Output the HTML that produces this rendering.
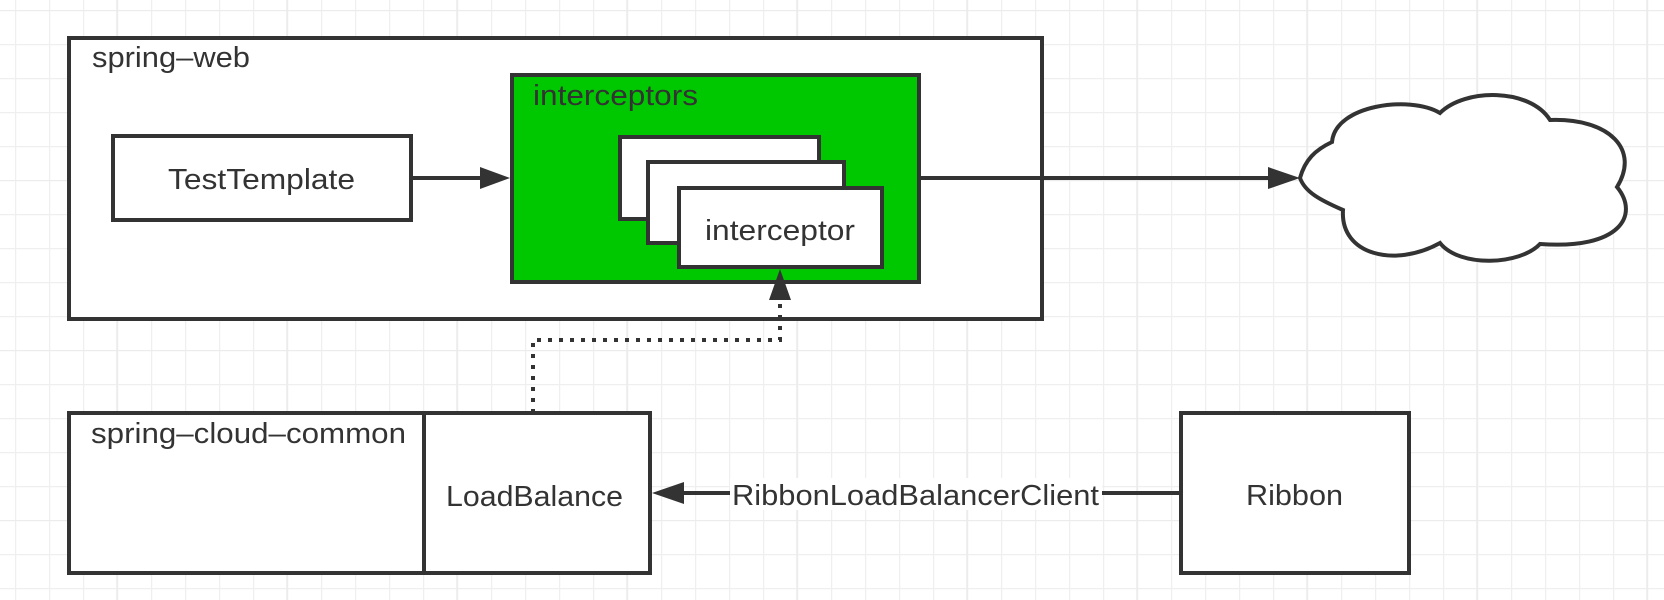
<!DOCTYPE html>
<html><head><meta charset="utf-8"><style>
html,body{margin:0;padding:0;background:#fff;}
svg{display:block;}
text{font-family:"Liberation Sans",sans-serif;fill:#333;font-size:29px;}
</style></head><body>
<svg width="1664" height="600" viewBox="0 0 1664 600" xmlns="http://www.w3.org/2000/svg">
<defs>
<pattern id="g" x="15" y="10" width="34" height="34" patternUnits="userSpaceOnUse">
<path d="M0.5 0V34M0 0.5H34" stroke="#efefef" stroke-width="1.5" fill="none"/>
</pattern>
<pattern id="G" x="15" y="10" width="170" height="170" patternUnits="userSpaceOnUse">
<path d="M102 0V170M0 0H170" stroke="#ebebeb" stroke-width="1.5" fill="none"/>
</pattern>
</defs>
<rect width="1664" height="600" fill="url(#g)"/>
<rect width="1664" height="600" fill="url(#G)"/>

<g stroke="#333" stroke-width="4">
<rect x="69" y="38" width="973" height="281" fill="#fff"/>
<rect x="113" y="136" width="298" height="84" fill="#fff"/>
<rect x="512" y="75" width="407" height="207" fill="#00c800"/>
<rect x="620" y="137" width="199" height="82" fill="#fff"/>
<rect x="648" y="162" width="196" height="81" fill="#fff"/>
<rect x="679" y="188" width="203" height="79" fill="#fff"/>
<rect x="69" y="413" width="355" height="160" fill="#fff"/>
<rect x="424" y="413" width="226" height="160" fill="#fff"/>
<rect x="1181" y="413" width="228" height="160" fill="#fff"/>
<path d="M1300,178 C1305,160 1315,150 1332,142 C1335,105 1410,95 1440,113 C1465,88 1530,88 1550,120 C1610,118 1640,150 1617,187 C1640,215 1620,250 1540,244 C1520,265 1460,268 1440,243 C1395,268 1340,255 1343,210 C1320,200 1305,192 1300,178 Z" fill="#fff"/>
</g>

<g stroke="#333" stroke-width="4" fill="none">
<line x1="411" y1="178" x2="482" y2="178"/>
<line x1="919" y1="178" x2="1270" y2="178"/>
<line x1="682" y1="493" x2="1181" y2="493"/>
<path d="M533 413V340H780V300" stroke-dasharray="4 7"/>
</g>
<g fill="#333">
<polygon points="510,178 480,167 480,189"/>
<polygon points="1300,178 1268,167 1268,189"/>
<polygon points="652,493 684,482 684,504"/>
<polygon points="780,269 769,300 791,300"/>
</g>

<rect x="730" y="478" width="372" height="32" fill="#fff"/>

<text x="92" y="67" textLength="158" lengthAdjust="spacingAndGlyphs">spring–web</text>
<text x="533" y="105" textLength="165" lengthAdjust="spacingAndGlyphs">interceptors</text>
<text x="705" y="240" textLength="150" lengthAdjust="spacingAndGlyphs">interceptor</text>
<text x="168" y="189" textLength="187" lengthAdjust="spacingAndGlyphs">TestTemplate</text>
<text x="91" y="443" textLength="315" lengthAdjust="spacingAndGlyphs">spring–cloud–common</text>
<text x="446" y="506" textLength="177" lengthAdjust="spacingAndGlyphs">LoadBalance</text>
<text x="732" y="505" textLength="367" lengthAdjust="spacingAndGlyphs">RibbonLoadBalancerClient</text>
<text x="1246" y="505" textLength="97" lengthAdjust="spacingAndGlyphs">Ribbon</text>
</svg>
</body></html>
